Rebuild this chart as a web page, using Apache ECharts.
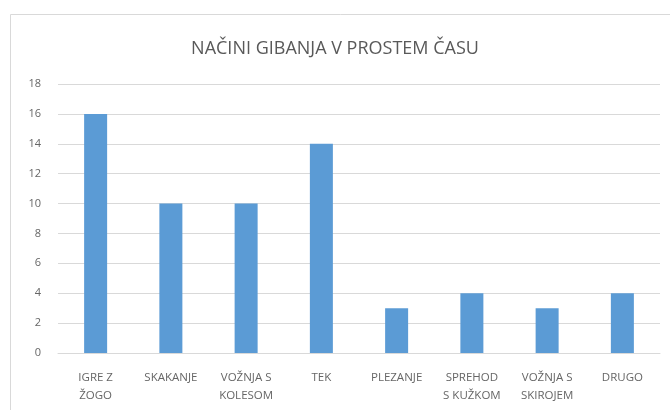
<!DOCTYPE html>
<html>
<head>
<meta charset="utf-8">
<script src="https://cdn.jsdelivr.net/npm/echarts@6/dist/echarts.min.js"></script>
<style>
html, body { margin: 0; padding: 0; background: #fff; }
#main { width: 670px; height: 410px; }
</style>
</head>
<body>
<div id="main"></div>
<script>
// podatki
var kategorije = ['IGRE Z\nŽOGO', 'SKAKANJE', 'VOŽNJA S\nKOLESOM', 'TEK', 'PLEZANJE', 'SPREHOD\nS KUŽKOM', 'VOŽNJA S\nSKIROJEM', 'DRUGO'];
var vrednosti = [16, 10, 10, 14, 3, 4, 3, 4];

var chart = echarts.init(document.getElementById('main'));
var option = {
    animation: false,
    textStyle: { fontFamily: 'Open Sans' },
    title: {
        text: 'NAČINI GIBANJA V PROSTEM ČASU',
        left: 'center',
        top: 35,
        textStyle: { fontSize: 18, fontWeight: 'normal', color: '#595959', fontFamily: 'Open Sans' }
    },
    graphic: [{
        type: 'rect',
        shape: { x: 10.5, y: 14.5, width: 700, height: 500 },
        style: { fill: 'none', stroke: '#d9d9d9', lineWidth: 1 },
        silent: true
    }],
    grid: { left: 58, right: 10, top: 84, bottom: 57 },
    xAxis: {
        type: 'category',
        data: kategorije,
        axisLine: { lineStyle: { color: '#d9d9d9' } },
        axisTick: { show: false },
        axisLabel: { interval: 0, color: '#666666', fontSize: 11.5, lineHeight: 18, margin: 16 }
    },
    yAxis: {
        type: 'value',
        min: 0,
        max: 18,
        interval: 2,
        axisLine: { show: false },
        axisTick: { show: false },
        axisLabel: { color: '#666666', fontSize: 11, margin: 17 },
        splitLine: { lineStyle: { color: '#d9d9d9' } }
    },
    series: [{
        type: 'bar',
        data: vrednosti,
        barWidth: 23,
        itemStyle: { color: '#5b9bd5' }
    }]
};
chart.setOption(option);
</script>
</body>
</html>
